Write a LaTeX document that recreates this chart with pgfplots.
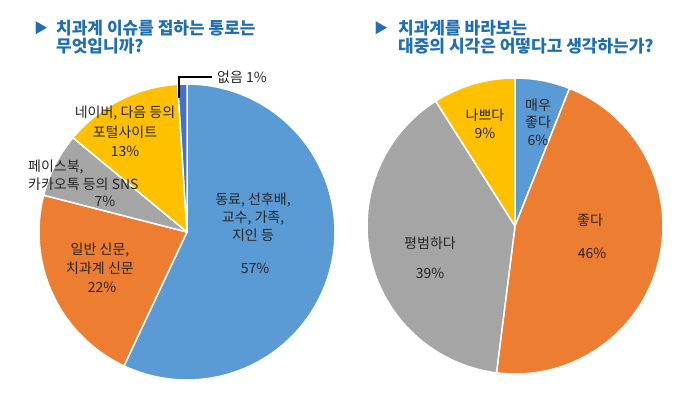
\documentclass[border=0pt]{standalone}
\usepackage{fontspec}
\setmainfont{Noto Sans CJK KR}
\usepackage{pgfplots}
\pgfplotsset{compat=1.18}
\definecolor{cblue}{HTML}{5B9BD5}
\definecolor{corange}{HTML}{ED7D31}
\definecolor{cgray}{HTML}{A5A5A5}
\definecolor{cyellow}{HTML}{FFC000}
\definecolor{cdblue}{HTML}{4472C4}
\definecolor{ctitle}{HTML}{1F6EB4}
\newcommand{\pieslice}[6]{%
  \addplot[fill=#1, draw=white, line width=1.5pt, line join=round, domain=#5:#6, samples=90, variable=\t]
    ({#2+#4*cos(-90+3.6*\t)},{#3+#4*sin(-90+3.6*\t)}) -- (axis cs:#2,#3) -- cycle;}
\tikzset{lbl/.style={font=\fontsize{14}{16}\selectfont, inner sep=0pt, text=black!85}}
\begin{document}
\begin{tikzpicture}
\begin{axis}[x=1pt, y=1pt, xmin=0, xmax=680, ymin=0, ymax=397, y dir=reverse,
  hide axis, clip=false, scale only axis]
\path (axis cs:0,0) rectangle (axis cs:680,397);
% left pie: 57, 22, 7, 13, 1
\pieslice{cblue}{187}{232}{148}{0}{57}
\pieslice{corange}{187}{232}{148}{57}{79}
\pieslice{cgray}{187}{232}{148}{79}{86}
\pieslice{cyellow}{187}{232}{148}{86}{99}
\pieslice{cdblue}{187}{232}{148}{99}{100}
% right pie: 6, 46, 39, 9
\pieslice{cblue}{515}{226}{148}{0}{6}
\pieslice{corange}{515}{226}{148}{6}{52}
\pieslice{cgray}{515}{226}{148}{52}{91}
\pieslice{cyellow}{515}{226}{148}{91}{100}
% leader line
\addplot[black, line width=1.2pt, line join=miter] coordinates {(179,98) (179,77) (212,77)};
% titles
\node[inner sep=0pt, anchor=center, text=ctitle, font=\fontsize{14}{16}\selectfont] at (axis cs:41,28) {▶};
\node[inner sep=0pt, anchor=west, text=ctitle, font=\fontsize{17}{18}\selectfont\bfseries] at (axis cs:56,28) {치과계 이슈를 접하는 통로는};
\node[inner sep=0pt, anchor=west, text=ctitle, font=\fontsize{17}{18}\selectfont\bfseries] at (axis cs:56,46) {무엇입니까?};
\node[inner sep=0pt, anchor=center, text=ctitle, font=\fontsize{14}{16}\selectfont] at (axis cs:381,28) {▶};
\node[inner sep=0pt, anchor=west, text=ctitle, font=\fontsize{17}{18}\selectfont\bfseries] at (axis cs:398,28) {치과계를 바라보는};
\node[inner sep=0pt, anchor=west, text=ctitle, font=\fontsize{17}{18}\selectfont\bfseries] at (axis cs:398,46) {대중의 시각은 어떻다고 생각하는가?};
% left labels
\node[lbl] at (axis cs:253,200) {동료, 선후배,};
\node[lbl] at (axis cs:253,218) {교수, 가족,};
\node[lbl] at (axis cs:253,235) {지인 등};
\node[lbl] at (axis cs:255,268) {57\%};
\node[lbl] at (axis cs:100,250) {일반 신문,};
\node[lbl] at (axis cs:100,268) {치과계 신문};
\node[lbl] at (axis cs:102,287) {22\%};
\node[lbl, anchor=west] at (axis cs:28,167) {페이스북,};
\node[lbl, anchor=west] at (axis cs:28,184) {카카오톡 등의 SNS};
\node[lbl] at (axis cs:105,201) {7\%};
\node[lbl] at (axis cs:125,113) {네이버, 다음 등의};
\node[lbl] at (axis cs:125,132) {포털사이트};
\node[lbl] at (axis cs:125,151) {13\%};
\node[lbl, anchor=west] at (axis cs:217,77) {없음 1\%};
% right labels
\node[lbl] at (axis cs:538,105) {매우};
\node[lbl] at (axis cs:538,122) {좋다};
\node[lbl] at (axis cs:538,140) {6\%};
\node[lbl] at (axis cs:485,115) {나쁘다};
\node[lbl] at (axis cs:485,133) {9\%};
\node[lbl] at (axis cs:590,220) {좋다};
\node[lbl] at (axis cs:592,253) {46\%};
\node[lbl] at (axis cs:430,243) {평범하다};
\node[lbl] at (axis cs:430,273) {39\%};
\end{axis}
\end{tikzpicture}
\end{document}
